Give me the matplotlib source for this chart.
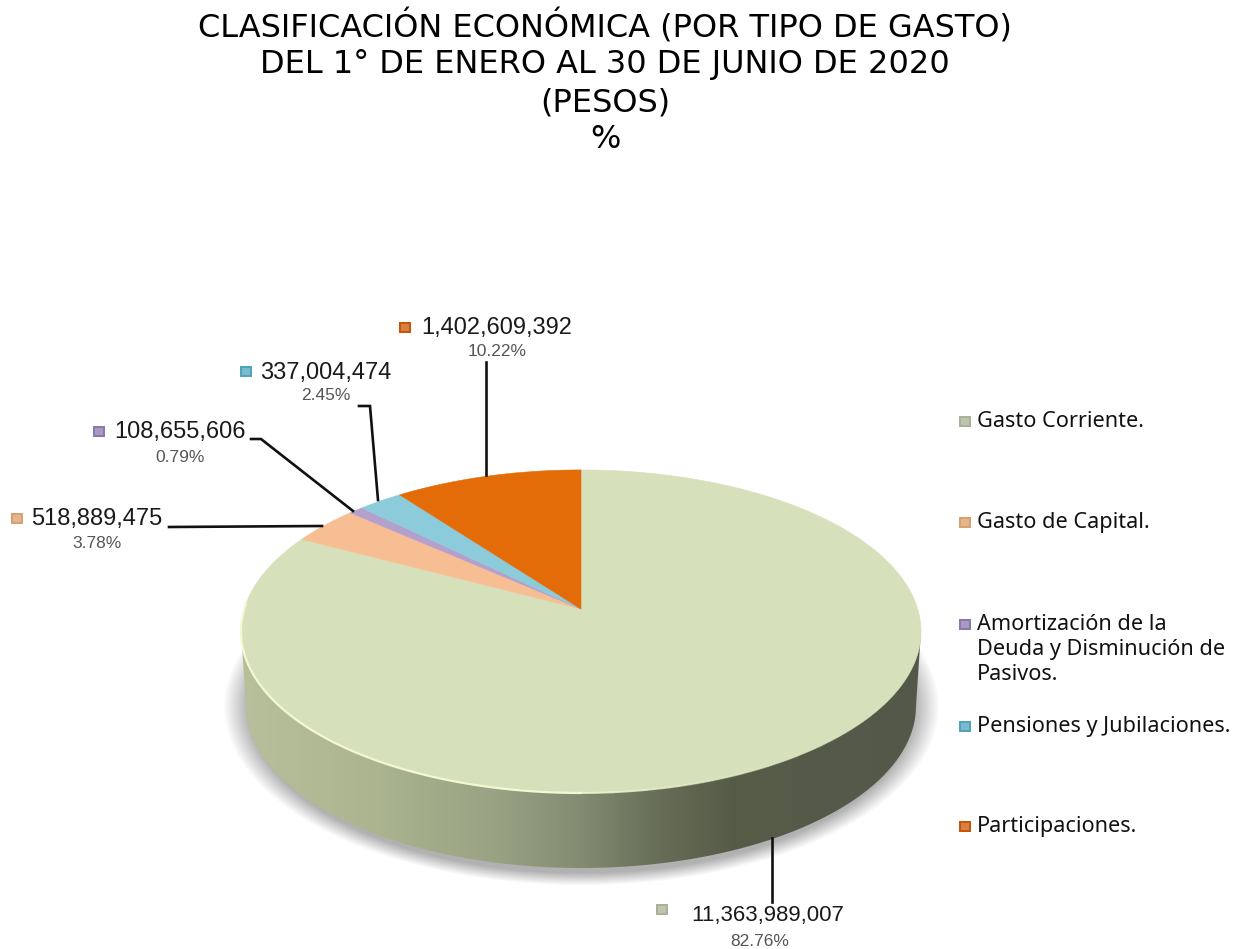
#!/usr/bin/env python3
# -*- coding: utf-8 -*-
import numpy as np
import matplotlib
matplotlib.use('Agg')
import matplotlib.pyplot as plt
from matplotlib.colors import LinearSegmentedColormap
from matplotlib.patches import PathPatch, Rectangle
from matplotlib.path import Path

# data
categorias = ['Gasto Corriente.', 'Gasto de Capital.',
              'Amortización de la\nDeuda y Disminución de\nPasivos.',
              'Pensiones y Jubilaciones.', 'Participaciones.']
pesos = [11363989007, 518889475, 108655606, 337004474, 1402609392]
porcentajes = ['82.76%', '3.78%', '0.79%', '2.45%', '10.22%']
colores = ['#D6E1BB', '#F6BE92', '#B4A0CC', '#8CCBD9', '#E36C09']
colores_cuadro = ['#A9B294', '#D99F6C', '#8C78AC', '#4FA4BC', '#C85606']
titulo = ['CLASIFICACIÓN ECONÓMICA (POR TIPO DE GASTO)',
          'DEL 1° DE ENERO AL 30 DE JUNIO DE 2020', '(PESOS)', '%']

# pie geometry in pixels, top face is a circle seen in perspective
cx, cy = 581, 609
A, B, k = 336.7, 158.4, 0.139


def proj(ang):
    # ang in degrees, clockwise from 12 o'clock
    t = np.radians(ang)
    u, v = np.sin(t), np.cos(t)
    w = 1 + k * v
    return cx + A * u / w, cy - B * v / w


fig = plt.figure(figsize=(12.43, 9.49), dpi=100)
ax = fig.add_axes([0, 0, 1, 1])

# shadow under the pie
xx, yy = np.meshgrid(np.arange(200, 960), np.arange(620, 900))
d = np.sqrt(((xx - 581) / 358.0) ** 2 + ((yy - 706) / 179.0) ** 2)
sombra = np.zeros(xx.shape + (4,))
sombra[..., :3] = 0.45
sombra[..., 3] = 0.55 * np.clip((1.0 - d) / 0.07, 0, 1)
ax.imshow(sombra, extent=[200, 960, 900, 620], zorder=1, aspect='auto')

# side of the pie, gradient clipped to the band
t_low = np.radians(np.linspace(90, 270, 200))
lado_x = 581 + 335 * np.sin(t_low)
lado_y = 706 - 162 * np.cos(t_low)
lado_xy = np.column_stack([np.r_[921, lado_x, 241], np.r_[631, lado_y, 631]])
lado_xy = np.vstack([lado_xy, lado_xy[0]])
cmap = LinearSegmentedColormap.from_list('lado', [
    (0.0, '#B7C09B'), (0.2, '#ABB48F'), (0.38, '#98A182'),
    (0.5, '#838B72'), (0.62, '#666C56'), (0.72, '#575C48'), (1.0, '#54584A')])
im = ax.imshow(np.linspace(0, 1, 400)[None, :], cmap=cmap, aspect='auto',
               extent=[241, 921, 880, 620], zorder=2)
clip = PathPatch(Path(lado_xy), transform=ax.transData, fc='none', ec='none')
ax.add_patch(clip)
im.set_clip_path(clip)

# top face, slices clockwise from the top
inicio = 0.0
for valor, color in zip(pesos, colores):
    fin = inicio + 360.0 * valor / sum(pesos)
    xs, ys = proj(np.linspace(inicio, fin, max(int(fin - inicio) * 2, 4)))
    ax.fill(np.r_[cx, xs], np.r_[cy, ys], color=color, lw=0.4, zorder=3)
    inicio = fin

# light edge on the lower left of the rim, fades out to the right
xs, ys = proj(np.linspace(180, 272, 120))
ax.plot(xs, ys, color='#F3F7D2', lw=1.6, zorder=4, solid_capstyle='round')
for j in range(8):
    xs, ys = proj(np.linspace(180 - 5 * j, 175 - 5 * j, 10))
    ax.plot(xs, ys, color='#F3F7D2', lw=1.4, alpha=0.8 - 0.1 * j, zorder=4,
            solid_capstyle='butt')

# leader lines
guias = [([772, 772], [838, 902]),
         ([169, 322], [527, 526]),
         ([251, 261, 353], [439, 439, 511]),
         ([359, 370, 378], [406, 406, 500]),
         ([486, 486], [362, 475])]
for gx, gy in guias:
    ax.plot(gx, gy, color='#111111', lw=1.9, zorder=5, solid_joinstyle='miter')


def cuadro(x, y, c):
    ax.add_patch(Rectangle((x - 6, y - 5.5), 12, 11, fc=c, ec='none', zorder=6))
    ax.add_patch(Rectangle((x - 4, y - 3.5), 8, 7, fc='white', ec='none',
                           alpha=0.25, zorder=6))


# value labels
fuente = 'Liberation Sans'
etiq_val = [(768, 916), (97, 519), (180, 432), (326, 373), (497, 328)]
etiq_pct = [(760, 941), (97, 544), (180, 457), (326, 396), (497, 352)]
etiq_cuad = [(662, 909), (17, 518), (99, 431), (246, 371), (405, 327)]
for i in range(5):
    tam = 16 if i == 0 else 17
    ax.text(*etiq_val[i], f'{pesos[i]:,}', family=fuente, fontsize=tam,
            color='#1a1a1a', ha='center', va='center', zorder=7)
    ax.text(*etiq_pct[i], porcentajes[i], family=fuente, fontsize=12.5,
            color='#555555', ha='center', va='center', zorder=7)
    cuadro(*etiq_cuad[i], colores_cuadro[i])

# legend on the right
ley_y = [421, 522, 624, 726, 826]
for i in range(5):
    cuadro(965, ley_y[i], colores_cuadro[i])
    ax.text(977, ley_y[i] - 10, categorias[i], family='Noto Sans', fontsize=15.6,
            color='#111111', ha='left', va='top', linespacing=1.25, zorder=7)

# title
tit_y = [37, 73, 111, 148]
for linea, y in zip(titulo, tit_y):
    ax.text(605, y, linea, family='DejaVu Sans', fontsize=23, color='#000000',
            ha='center', va='baseline', zorder=7)

ax.set_xlim(0, 1243)
ax.set_ylim(949, 0)
ax.axis('off')
fig.savefig('out.png', dpi=100, facecolor='white')
